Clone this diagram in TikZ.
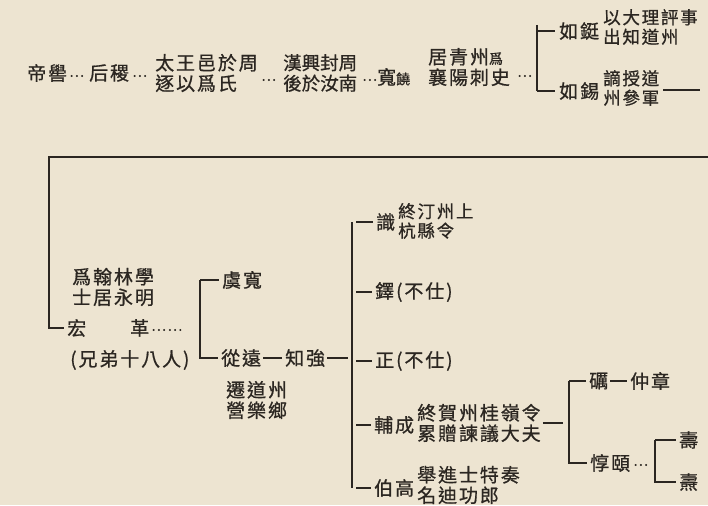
\documentclass[tikz,border=0pt]{standalone}
\usepackage{fontspec}
\newfontfamily\cjk[FakeBold=0.8,LetterSpace=10]{Noto Sans CJK TC}
\definecolor{paper}{HTML}{EDE4D1}
\definecolor{ink}{HTML}{2B2621}
\begin{document}
\begin{tikzpicture}[x=1pt,y=-1pt,
  t/.style={font=\cjk\fontsize{19}{20.5}\selectfont, text=ink, inner sep=0pt, anchor=west, align=left},
  ts/.style={t, font=\cjk\fontsize{17.5}{19.5}\selectfont},
  tn/.style={t, font=\cjk\fontsize{18.5}{20.5}\selectfont\addfontfeature{LetterSpace=0}},
  ln/.style={draw=ink, line width=1.6pt},
  dt/.style={t, font=\cjk\fontsize{14}{16}\selectfont}]
\path[fill=paper] (0,0) rectangle (708,505);
\useasboundingbox (0,0) rectangle (708,505);

% row 1
\node[t] (diku) at (27,73) {帝嚳};
\node[dt] (d1) at (69,76) {…};
\node[t] (houji) at (89,73) {后稷};
\node[dt] (d2) at (132,76) {…};
\node[t] (taiwang) at (155,73) {太王邑於周\\逐以爲氏};
\node[dt] (d3) at (261,80) {…};
\node[tn] (han) at (283,73) {漢興封周\\後於汝南};
\node[dt] (d4) at (362,80) {…};
\node[t] (kuan) at (377,77) {寬{\fontsize{14}{15}\selectfont 饒}};
\node[t] (ju) at (428,67) {居青州{\fontsize{14}{15}\selectfont 爲}\\襄陽刺史};
\node[dt] (d5) at (517,76) {…};
\coordinate (b1) at (537,0);
\node[t] (ruting) at (559,31) {如鋌};
\node[ts] (rutingn) at (603,27) {以大理評事\\出知道州};
\node[t] (ruxi) at (559,91) {如錫};
\node[ts] (ruxin) at (603,88) {謫授道\\州參軍};
\coordinate (cont) at (700,90);

\draw[ln] (b1 |- ruting.west) ++(0,-6) -- (b1 |- ruxi.west);
\draw[ln] (b1 |- ruting.west) -- ([xshift=-4pt]ruting.west);
\draw[ln] (b1 |- ruxi.west) -- ([xshift=-4pt]ruxi.west);
\draw[ln] ([xshift=4pt]ruxin.east |- cont) -- (cont);

% left big bracket
\coordinate (tl) at (49,157);
\coordinate (tr) at (708,157);
\node[t] (hannote) at (72,287) {爲翰林學\\士居永明};
\node[t] (hong) at (67,328) {宏};
\node[t] (ge) at (130,328) {革};
\node[dt] (d6) at (151,330) {……};
\node[t] (xiong) at (70,360) {(兄弟十八人)};
\draw[ln] (tr) -- (tl) |- ([xshift=-3pt]hong.west);

% bracket 2
\coordinate (b2) at (200,0);
\node[t] (yukuan) at (222,280) {虞寬};
\node[t] (congyuan) at (221,358) {從遠};
\node[t] (zhiqiang) at (285,358) {知強};
\node[t] (qian) at (226,400) {遷道州\\營樂鄉};
\draw[ln] (b2 |- yukuan.west) -- (b2 |- congyuan.west) -- ([xshift=-3pt]congyuan.west);
\draw[ln] (b2 |- yukuan.west) -- ([xshift=-3pt]yukuan.west);
\draw[ln] ([xshift=2pt]congyuan.east) -- ([xshift=-3pt]zhiqiang.west);
\coordinate (b3) at (352,0);
\draw[ln] ([xshift=2pt]zhiqiang.east) -- ([xshift=-4pt]b3 |- zhiqiang.east);

% bracket 3
\node[t] (shi) at (376,222) {識};
\node[ts] (shin) at (398,221) {終汀州上\\杭縣令};
\node[t] (duo) at (375,292) {鐸(不仕)};
\node[t] (zheng) at (375,361) {正(不仕)};
\node[t] (fucheng) at (374,425) {輔成};
\node[t] (fuchengn) at (417,423) {終賀州桂嶺令\\累贈諫議大夫};
\node[t] (bogao) at (374,488) {伯高};
\node[t] (bogaon) at (417,485) {舉進士特奏\\名迪功郎};
\draw[ln] (b3 |- shi.west) -- (b3 |- bogao.west);
\foreach \n in {shi,duo,zheng,fucheng,bogao}
  \draw[ln] (b3 |- \n.west) ++(4pt,0) -- ([xshift=-3pt]\n.west);

% bracket 4
\coordinate (b4) at (569,0);
\node[t] (li) at (589,381) {礪};
\node[t] (zhongzhang) at (630,381) {仲章};
\node[t] (dunyi) at (590,463) {惇頤};
\node[dt] (d7) at (633,465) {…};
\draw[ln] ([xshift=2pt]fuchengn.east) -- ([xshift=-6pt]b4 |- fuchengn.east);
\draw[ln] (b4 |- li.west) -- (b4 |- dunyi.west) -- ([xshift=-3pt]dunyi.west);
\draw[ln] (b4 |- li.west) -- ([xshift=-3pt]li.west);
\draw[ln] ([xshift=2pt]li.east) -- ([xshift=-3pt]zhongzhang.west);

% bracket 5
\coordinate (b5) at (655,0);
\node[t] (shou) at (679,440) {壽};
\node[t] (tao) at (679,482) {燾};
\draw[ln] (b5 |- shou.west) -- (b5 |- tao.west) -- ([xshift=-3pt]tao.west);
\draw[ln] (b5 |- shou.west) -- ([xshift=-3pt]shou.west);
\end{tikzpicture}
\end{document}
